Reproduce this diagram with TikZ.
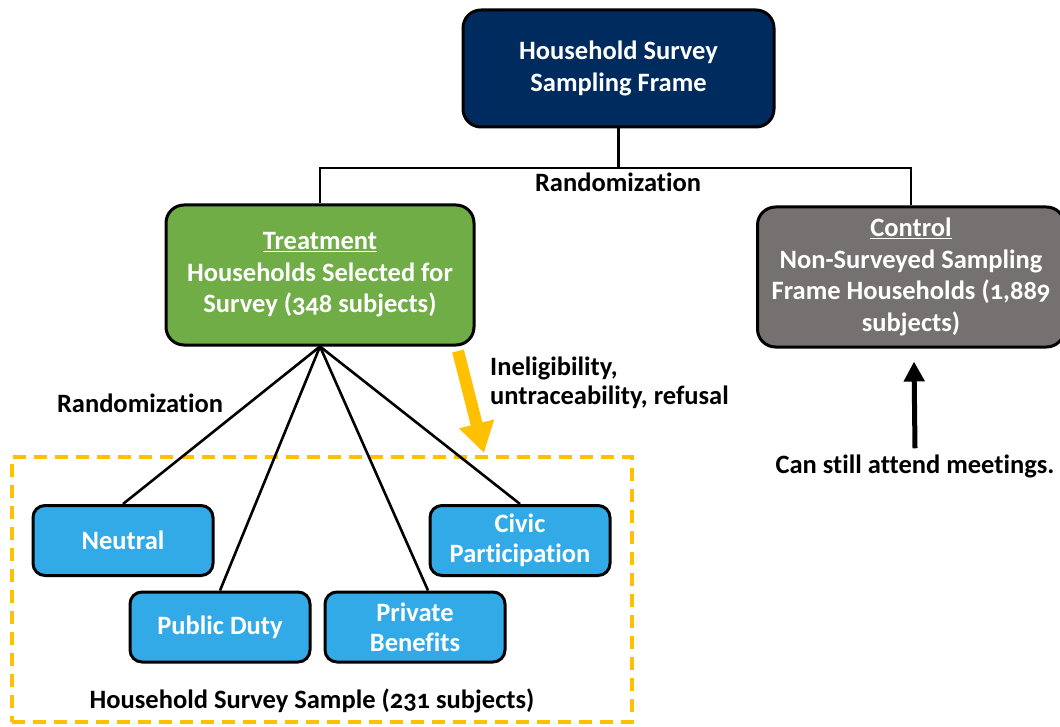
\documentclass[tikz,border=0pt]{standalone}
\usepackage{fontspec}
\setmainfont{Carlito}[Numbers=OldStyle, Ligatures=NoCommon]
\usetikzlibrary{arrows.meta,calc}
\definecolor{navy}{HTML}{002B5E}
\definecolor{treatgreen}{HTML}{70AD47}
\definecolor{ctrlgray}{HTML}{767171}
\definecolor{armblue}{HTML}{33AAE8}
\definecolor{amber}{HTML}{FFC000}
\begin{document}
\begin{tikzpicture}[x=1pt,y=-1pt,
  bigbox/.style={draw=black, line width=3pt, rounded corners=18pt, text=white, align=center,
    font=\fontsize{26.5}{31.5}\selectfont\bfseries, inner sep=0pt},
  armbox/.style={draw=black, line width=3pt, rounded corners=12pt, fill=armblue, text=white, align=center,
    font=\fontsize{26.5}{30}\selectfont\bfseries, minimum width=180pt, minimum height=70pt, inner sep=0pt},
  conn/.style={draw=black, line width=2.6pt},
  lbl/.style={text=black, font=\fontsize{26.5}{29}\selectfont\bfseries, inner sep=0pt}]
\useasboundingbox (0,0) rectangle (1060,727);
% boxes
\node[bigbox, fill=navy, minimum width=311pt, minimum height=117pt] (frame) at (618.5,68.5)
  {Household Survey\\Sampling Frame};
\node[bigbox, fill=treatgreen, minimum width=308pt, minimum height=140pt] (treat) at (320,275)
  {\underline{Treatment}\\Households Selected for\\Survey (348 subjects)};
\node[bigbox, fill=ctrlgray, minimum width=307pt, minimum height=140pt] (ctrl) at (911,277)
  {\underline{Control}\\Non-Surveyed Sampling\\Frame Households (1,889\\subjects)};
% randomization tree
\coordinate (mid) at (618.5,168);
\draw[conn] (frame.south) -- (mid);
\draw[conn] (treat.north) |- (mid) -| (ctrl.north);
\node[lbl] (rand1) at (618,182) {Randomization};
% dashed sample box
\node[draw=amber, line width=4.5pt, dash pattern=on 13pt off 8pt, minimum width=620pt, minimum height=265pt, inner sep=0pt] (sample) at (322,589.5) {};
\node[lbl] (samplelbl) at (312,701) {Household Survey Sample (231 subjects)};
% arms
\node[armbox] (neutral) at (123,540.5) {Neutral};
\node[armbox] (duty) at (220,627) {Public Duty};
\node[armbox] (priv) at (415,627) {Private\\Benefits};
\node[armbox] (civic) at (520,540.5) {Civic\\Participation};
\draw[conn] (treat.south) -- (neutral.north);
\draw[conn] (treat.south) -- (duty.north);
\draw[conn] (treat.south) -- ($(priv.north)+(13,0)$);
\draw[conn] (treat.south) -- (civic.north);
\node[lbl] (rand2) at (140,403) {Randomization};
% attrition arrow
\coordinate (attrStart) at (458,351);
\coordinate (attrEnd) at (484,453);
\draw[amber, line width=12pt, -{Triangle[length=30pt,width=34pt]}] (attrStart) -- (attrEnd);
\node[lbl, anchor=north west, align=left] (attr) at (490,357) {Ineligibility,\\untraceability, refusal};
% control note
\node[lbl] (meet) at (915,466) {Can still attend meetings.};
\draw[black, line width=5pt, -{Triangle[length=20pt,width=20pt]}] (meet.north) ++(0,-6) -- ($(ctrl.south)+(3,13)$);
\end{tikzpicture}
\end{document}
